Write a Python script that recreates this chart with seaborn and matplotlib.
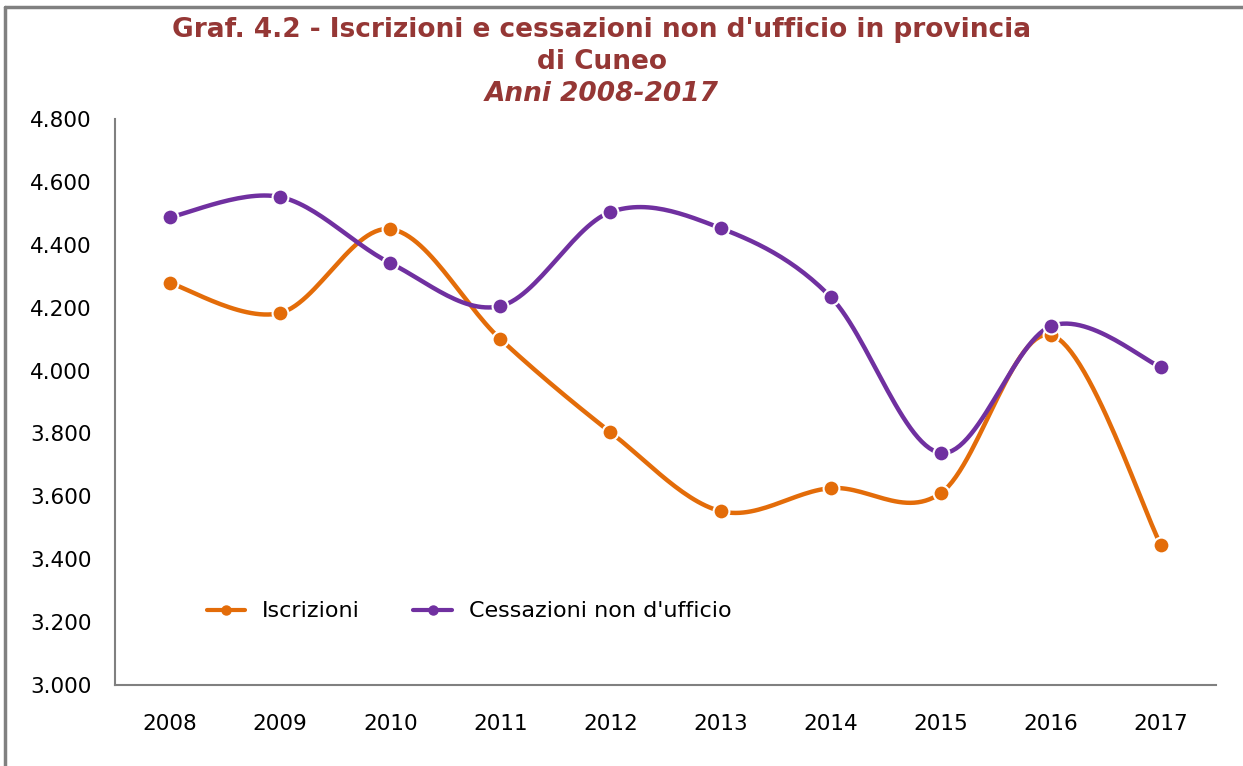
import numpy as np
import pandas as pd
import matplotlib
matplotlib.use("Agg")
import matplotlib.pyplot as plt
from matplotlib.lines import Line2D
from matplotlib.ticker import FuncFormatter
import seaborn as sns

# Data
anni = ["2008", "2009", "2010", "2011", "2012", "2013", "2014", "2015", "2016", "2017"]
iscrizioni = [4278, 4183, 4450, 4100, 3804, 3553, 3626, 3610, 4113, 3445]
cessazioni = [4488, 4552, 4342, 4205, 4504, 4453, 4234, 3738, 4141, 4011]

col_isc = "#E36C09"
col_ces = "#7030A0"
col_title = "#953735"

df = pd.DataFrame({"anno": anni, "Iscrizioni": iscrizioni,
                   "Cessazioni non d'ufficio": cessazioni})
df["pos"] = np.arange(len(df))

sns.set_style("white")
plt.rcParams["font.family"] = ["DejaVu Sans"]


def smooth(x, y, n=30):
    # Excel-like smoothed line (Catmull-Rom as cubic Bezier)
    x = np.asarray(x, float)
    y = np.asarray(y, float)
    px = np.concatenate([[x[0]], x, [x[-1]]])
    py = np.concatenate([[y[0]], y, [y[-1]]])
    t = np.linspace(0, 1, n)[:, None]
    xs, ys = [], []
    for i in range(1, len(px) - 2):
        p0 = np.array([px[i], py[i]])
        p3 = np.array([px[i + 1], py[i + 1]])
        p1 = p0 + (p3 - np.array([px[i - 1], py[i - 1]])) / 6
        p2 = p3 - (np.array([px[i + 2], py[i + 2]]) - p0) / 6
        seg = ((1 - t) ** 3) * p0 + 3 * ((1 - t) ** 2) * t * p1 + 3 * (1 - t) * t ** 2 * p2 + t ** 3 * p3
        xs.append(seg[:, 0])
        ys.append(seg[:, 1])
    return np.concatenate(xs), np.concatenate(ys)


fig = plt.figure(figsize=(12.43, 7.66), dpi=100)
ax = fig.add_axes([115 / 1243, 1 - 685 / 766, 1101 / 1243, 566 / 766])

for serie, col in [("Iscrizioni", col_isc), ("Cessazioni non d'ufficio", col_ces)]:
    sx, sy = smooth(df["pos"], df[serie])
    ax.plot(sx, sy, color=col, lw=3.2, solid_capstyle="round", zorder=2)
    sns.scatterplot(data=df, x="pos", y=serie, ax=ax, color=col, s=130,
                    edgecolor="white", linewidth=1.5, zorder=3, legend=False)

ax.set_xlim(-0.5, len(anni) - 0.5)
ax.set_ylim(3000, 4800)
ax.set_yticks(np.arange(3000, 4801, 200))
ax.yaxis.set_major_formatter(FuncFormatter(lambda v, p: f"{int(v):,}".replace(",", ".")))
ax.set_xticks(df["pos"])
ax.set_xticklabels(anni)
ax.set_xlabel("")
ax.set_ylabel("")
ax.tick_params(axis="both", length=0, labelsize=15.5, colors="black")
ax.tick_params(axis="x", pad=21)
ax.tick_params(axis="y", pad=17)
for s in ["top", "right"]:
    ax.spines[s].set_visible(False)
for s in ["left", "bottom"]:
    ax.spines[s].set_color("#808080")
    ax.spines[s].set_linewidth(1.5)

handles = [Line2D([], [], color=col_isc, lw=3, marker="o", markersize=6.5),
           Line2D([], [], color=col_ces, lw=3, marker="o", markersize=6.5)]
ax.legend(handles, ["Iscrizioni", "Cessazioni non d'ufficio"], ncol=2,
          loc="center left", bbox_to_anchor=(0.065, 0.13), frameon=False,
          fontsize=16, labelcolor="black", handlelength=1.75, handletextpad=0.75,
          columnspacing=2.4)

title_kw = dict(ha="center", va="center", fontsize=19, fontweight="bold",
                color=col_title, family="DejaVu Sans")
fig.text(0.484, 1 - 30 / 766, "Graf. 4.2 - Iscrizioni e cessazioni non d'ufficio in provincia",
         **title_kw)
fig.text(0.484, 1 - 62 / 766, "di Cuneo", **title_kw)
fig.text(0.484, 1 - 94 / 766, "Anni 2008-2017", style="italic", **title_kw)

# grey frame (top and left edges visible)
fig.add_artist(Line2D([5 / 1243, 5 / 1243], [0, 1 - 7 / 766], color="#808080", lw=2.5,
                      transform=fig.transFigure))
fig.add_artist(Line2D([5 / 1243, 1], [1 - 7 / 766, 1 - 7 / 766], color="#808080", lw=2.5,
                      transform=fig.transFigure))

fig.savefig("out.png", dpi=100)
